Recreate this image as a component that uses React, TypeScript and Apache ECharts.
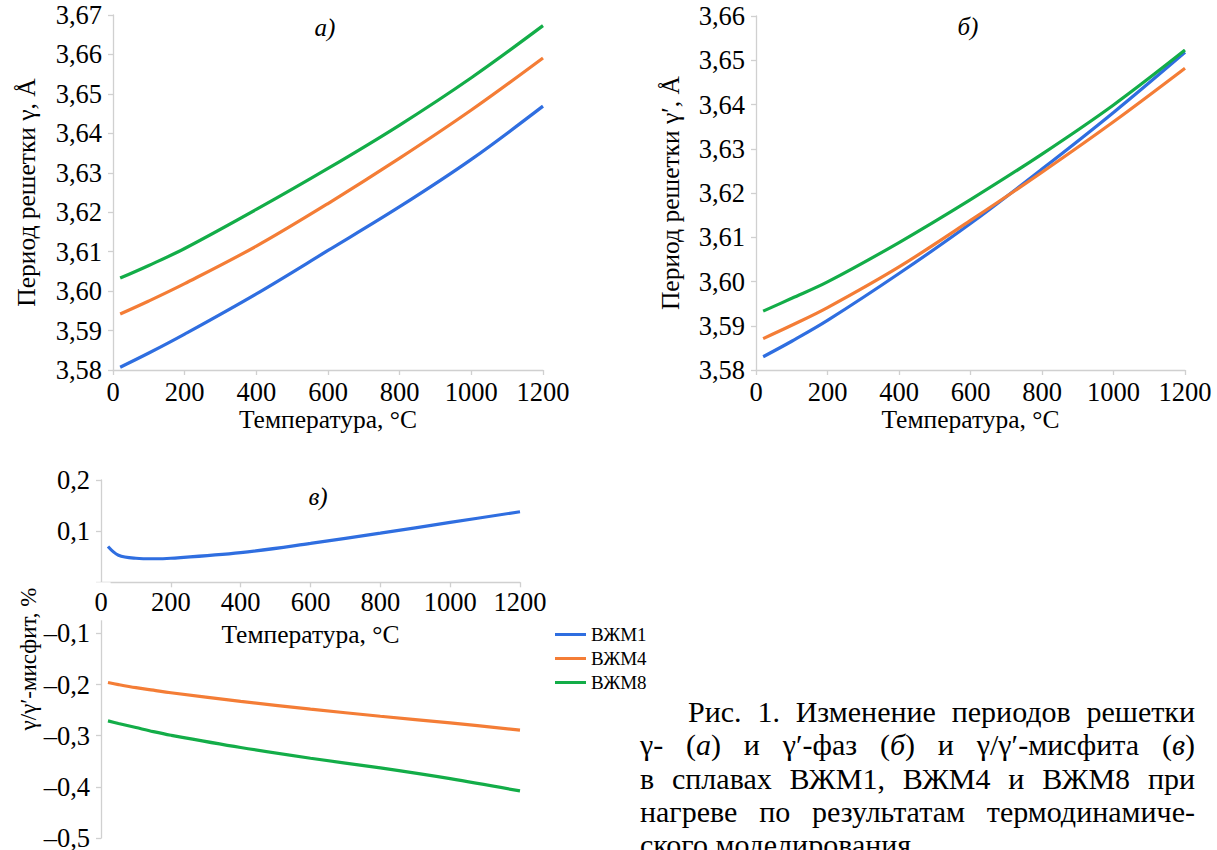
import React, { useEffect, useRef } from 'react';
import * as echarts from 'echarts';

// ---- Data ----
const seriesNames = ['ВЖМ1', 'ВЖМ4', 'ВЖМ8'];

// (а) γ lattice period, Å
const tempA = [20, 100, 200, 400, 600, 800, 1000, 1200];
const gammaVZhM1 = [3.5807, 3.5843, 3.5891, 3.5993, 3.6103, 3.6214, 3.6334, 3.6469];
const gammaVZhM4 = [3.5942, 3.5975, 3.6019, 3.6114, 3.6222, 3.6337, 3.6459, 3.6591];
const gammaVZhM8 = [3.6033, 3.6065, 3.6108, 3.6207, 3.6311, 3.6421, 3.6541, 3.6673];

// (б) γ′ lattice period, Å
const tempB = [20, 100, 200, 400, 600, 800, 1000, 1200];
const gammaPrimeVZhM1 = [3.5830, 3.5865, 3.5912, 3.6018, 3.6131, 3.6254, 3.6382, 3.6518];
const gammaPrimeVZhM4 = [3.5871, 3.5901, 3.5941, 3.6033, 3.6138, 3.6247, 3.6361, 3.6482];
const gammaPrimeVZhM8 = [3.5933, 3.5962, 3.5999, 3.6088, 3.6185, 3.6288, 3.6399, 3.6523];

// (в) γ/γ′ misfit, %
const tempC = [20, 50, 100, 150, 200, 400, 600, 800, 1000, 1200];
const misfitVZhM1 = [0.070, 0.053, 0.047, 0.046, 0.047, 0.058, 0.076, 0.096, 0.117, 0.138];
const misfitVZhM4 = [-0.196, -0.200, -0.206, -0.211, -0.216, -0.233, -0.248, -0.262, -0.275, -0.289];
const misfitVZhM8 = [-0.271, -0.276, -0.284, -0.292, -0.299, -0.323, -0.344, -0.363, -0.384, -0.408];

const captionLines = [
  'Рис. 1. Изменение периодов решетки',
  'γ- (<i>а</i>) и γ′-фаз (<i>б</i>) и γ/γ′-мисфита (<i>в</i>)',
  'в сплавах ВЖМ1, ВЖМ4 и ВЖМ8 при',
  'нагреве по результатам термодинамиче-',
  'ского моделирования',
];

const colors = ['#2f6ee0', '#f47d36', '#13ad48'];
const FONT = 'Liberation Serif';

const zip = (xs: number[], ys: number[]) => xs.map((x, i) => [x, ys[i]]);
const comma = (v: number, d: number) => {
  const s = Math.abs(v).toFixed(d).replace('.', ',');
  return v < 0 ? '\u2013' + s : s;
};

export default function App() {
  const ref = useRef<HTMLDivElement>(null);
  useEffect(() => {
    if (!ref.current) return;
    const chart = echarts.init(ref.current, null, { renderer: 'svg' });
    const axisLineStyle = { lineStyle: { color: '#d0d0d0', width: 1.3 } };
    const tickStyle = { show: true, length: 5, lineStyle: { color: '#d0d0d0', width: 1.3 } };
    const labelStyle = { color: '#000', fontFamily: FONT, fontSize: 26.5 };
    const nameStyle = { color: '#000', fontFamily: FONT, fontSize: 25.5 };

    const xAxisBase = (gridIndex: number) => ({
      gridIndex,
      type: 'value',
      min: 0,
      max: 1200,
      interval: 200,
      splitLine: { show: false },
      axisLine: { ...axisLineStyle, onZero: false },
      axisTick: tickStyle,
      name: 'Температура, °C',
      nameLocation: 'middle',
      nameGap: 36,
      nameTextStyle: nameStyle,
    });

    const lineSeries = (name: string, xs: number[], ys: number[], idx: number, color: string) => ({
      name,
      type: 'line',
      xAxisIndex: idx,
      yAxisIndex: idx,
      data: zip(xs, ys),
      smooth: 0.35,
      showSymbol: false,
      symbol: 'none',
      lineStyle: { color, width: 3.2 },
      itemStyle: { color },
    });

    const italic = "italic 25px 'Liberation Serif'";

    chart.setOption({
      animation: false,
      backgroundColor: '#fff',
      grid: [
        { left: 113, top: 15, width: 430, height: 355, outerBoundsMode: 'none' },
        { left: 756, top: 16, width: 429, height: 354, outerBoundsMode: 'none' },
        { left: 101, top: 480, width: 419, height: 358, outerBoundsMode: 'none' },
      ],
      xAxis: [
        { ...xAxisBase(0), axisLabel: { ...labelStyle, margin: 8, formatter: (v: number) => String(v) } },
        { ...xAxisBase(1), axisLabel: { ...labelStyle, margin: 8, formatter: (v: number) => String(v) } },
        {
          ...xAxisBase(2),
          z: 5,
          offset: -255.7,
          axisLabel: {
            ...labelStyle,
            margin: 0,
            formatter: (v: number) => (v === 0 ? '{z|0}' : '{n|' + v + '}'),
            rich: {
              z: { fontFamily: FONT, fontSize: 26.5, color: '#000', backgroundColor: '#fff', padding: [6, 3, 5, 3] },
              n: { fontFamily: FONT, fontSize: 26.5, color: '#000', padding: [6, 0, 5, 0] },
            },
          },
        },
      ],
      yAxis: [
        {
          gridIndex: 0, type: 'value', min: 3.58, max: 3.67, interval: 0.01,
          splitLine: { show: false }, axisLine: { show: true, ...axisLineStyle }, axisTick: tickStyle,
          axisLabel: { ...labelStyle, margin: 11, formatter: (v: number) => comma(v, 2) },
          name: 'Период решетки γ, Å', nameLocation: 'middle', nameGap: 74, nameTextStyle: nameStyle,
        },
        {
          gridIndex: 1, type: 'value', min: 3.58, max: 3.66, interval: 0.01,
          splitLine: { show: false }, axisLine: { show: true, ...axisLineStyle }, axisTick: tickStyle,
          axisLabel: { ...labelStyle, margin: 11, formatter: (v: number) => comma(v, 2) },
          name: 'Период решетки γ′, Å', nameLocation: 'middle', nameGap: 73, nameTextStyle: nameStyle,
        },
        {
          gridIndex: 2, type: 'value', min: -0.5, max: 0.2, interval: 0.1,
          splitLine: { show: false }, axisLine: { show: true, onZero: false, ...axisLineStyle }, axisTick: tickStyle,
          axisLabel: { ...labelStyle, margin: 11, formatter: (v: number) => (Math.abs(v) < 1e-9 ? '' : comma(v, 1)) },
          name: 'γ/γ′-мисфит, %', nameLocation: 'middle', nameGap: 57, nameTextStyle: { ...nameStyle, fontSize: 23 },
        },
      ],
      legend: {
        orient: 'vertical', left: 550, top: 620, icon: 'rect', itemWidth: 31, itemHeight: 3, itemGap: 5,
        textStyle: { color: '#000', fontFamily: FONT, fontSize: 19 },
        data: seriesNames,
      },
      graphic: [
        { type: 'text', x: 325, y: 27, style: { text: 'а)', font: italic, fill: '#000', textAlign: 'center', textVerticalAlign: 'middle' } },
        { type: 'text', x: 968, y: 26, style: { text: 'б)', font: italic, fill: '#000', textAlign: 'center', textVerticalAlign: 'middle' } },
        { type: 'text', x: 318, y: 496, style: { text: 'в)', font: italic, fill: '#000', textAlign: 'center', textVerticalAlign: 'middle' } },
      ],
      series: [
        lineSeries(seriesNames[0], tempA, gammaVZhM1, 0, colors[0]),
        lineSeries(seriesNames[1], tempA, gammaVZhM4, 0, colors[1]),
        lineSeries(seriesNames[2], tempA, gammaVZhM8, 0, colors[2]),
        lineSeries(seriesNames[0], tempB, gammaPrimeVZhM1, 1, colors[0]),
        lineSeries(seriesNames[1], tempB, gammaPrimeVZhM4, 1, colors[1]),
        lineSeries(seriesNames[2], tempB, gammaPrimeVZhM8, 1, colors[2]),
        lineSeries(seriesNames[0], tempC, misfitVZhM1, 2, colors[0]),
        lineSeries(seriesNames[1], tempC, misfitVZhM4, 2, colors[1]),
        lineSeries(seriesNames[2], tempC, misfitVZhM8, 2, colors[2]),
      ],
    });
    return () => chart.dispose();
  }, []);

  return (
    <div style={{ position: 'absolute', left: 0, top: 0, width: 1217, height: 850, overflow: 'hidden', background: '#fff' }}>
      <div ref={ref} style={{ position: 'absolute', left: 0, top: 0, width: 1217, height: 850 }} />
      <div
        style={{
          position: 'absolute', left: 640, top: 695, width: 555,
          fontFamily: FONT, fontSize: 30, lineHeight: '33.3px', color: '#000',
        }}
      >
        {captionLines.map((line, i) => (
          <div
            key={i}
            style={{
              textAlign: 'justify',
              textAlignLast: i < captionLines.length - 1 ? 'justify' : 'left',
              textIndent: i === 0 ? 48 : 0,
              whiteSpace: 'nowrap',
            }}
            dangerouslySetInnerHTML={{ __html: line }}
          />
        ))}
      </div>
    </div>
  );
}
